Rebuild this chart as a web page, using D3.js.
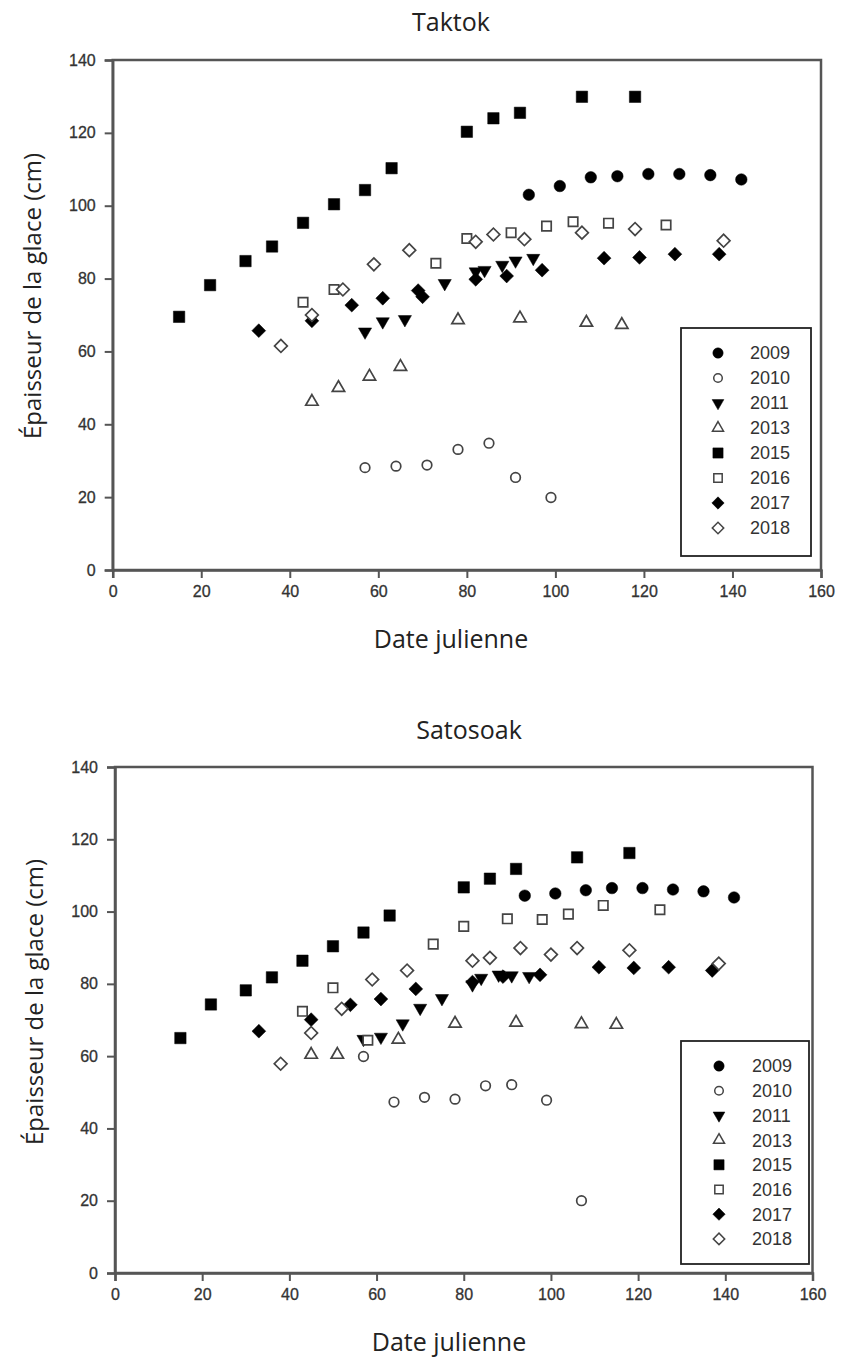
<!DOCTYPE html>
<html>
<head>
<meta charset="utf-8">
<script src="https://cdn.jsdelivr.net/npm/d3@7"></script>
<style>
  body { margin: 0; background: #fff; }
  svg { display: block; }
</style>
</head>
<body>
<div id="chart"></div>
<script>
// Ice thickness per julian day, two sites

const years = ["2009", "2010", "2011", "2013", "2015", "2016", "2017", "2018"];
const xTicks = [0, 20, 40, 60, 80, 100, 120, 140, 160];
const yTicks = [0, 20, 40, 60, 80, 100, 120, 140];

// Taktok  [julian day, thickness cm]
const tk2009 = [[94,103],[101,105.4],[108,107.8],[114,108.1],[121,108.7],[128,108.7],[135,108.4],[142,107.2]];
const tk2010 = [[57,28.1],[64,28.5],[71,28.8],[78,33.1],[85,34.8],[91,25.4],[99,19.9]];
const tk2011 = [[57,65.4],[61,68.2],[66,68.8],[75,78.7],[82,81.9],[84,82.3],[88,83.7],[91,84.9],[95,85.6]];
const tk2013 = [[45,46.2],[51,50],[58,53.1],[65,55.8],[78,68.6],[92,69.1],[107,67.9],[115,67.3]];
const tk2015 = [[15,69.5],[22,78.2],[30,84.8],[36,88.8],[43,95.3],[50,100.4],[57,104.3],[63,110.3],[80,120.3],[86,124],[92,125.5],[106,129.9],[118,129.9]];
const tk2016 = [[43,73.5],[50,77],[73,84.2],[80,91],[90,92.6],[98,94.4],[104,95.6],[112,95.2],[125,94.7]];
const tk2017 = [[33,65.7],[45,68.4],[54,72.7],[61,74.6],[69,76.7],[70,75],[82,79.8],[89,80.7],[97,82.3],[111,85.6],[119,85.8],[127,86.7],[137,86.7]];
const tk2018 = [[38,61.5],[45,70],[52,77],[59,83.9],[67,87.8],[82,90.1],[86,92.1],[93,90.8],[106,92.6],[118,93.6],[138,90.4]];

// Satosoak
const st2009 = [[94,104.4],[101,105],[108,105.9],[114,106.5],[121,106.5],[128,106.1],[135,105.6],[142,103.9]];
const st2010 = [[57,59.9],[64,47.3],[71,48.6],[78,48.1],[85,51.8],[91,52.1],[99,47.8],[107,20]];
const st2011 = [[57,64.7],[61,65.3],[66,69],[70,73.3],[75,76],[82,79.8],[84,81.6],[88,82.5],[91,82.3],[95,82.1]];
const st2013 = [[45,60.4],[51,60.4],[65,64.6],[78,69],[92,69.3],[107,68.9],[115,68.7]];
const st2015 = [[15,65],[22,74.3],[30,78.2],[36,81.8],[43,86.4],[50,90.4],[57,94.2],[63,98.9],[80,106.7],[86,109.1],[92,111.8],[106,115],[118,116.2]];
const st2016 = [[43,72.4],[50,78.9],[58,64.4],[73,91],[80,95.9],[90,98],[98,97.8],[104,99.3],[112,101.7],[125,100.5]];
const st2017 = [[33,66.9],[45,70.1],[54,74.2],[61,75.8],[69,78.6],[82,80.5],[89,82],[97.5,82.5],[111,84.6],[119,84.4],[127,84.6],[137,83.7]];
const st2018 = [[38,57.9],[45,66.4],[52,73.1],[59,81.2],[67,83.7],[82,86.4],[86,87.2],[93,89.9],[100,88.1],[106,89.9],[118,89.3],[138.5,85.6]];

// marker style per year
const markers = {
  "2009": {type: d3.symbolCircle, size: 105, filled: true, rot: 0},
  "2010": {type: d3.symbolCircle, size: 72, filled: false, rot: 0},
  "2011": {type: d3.symbolTriangle, size: 75, filled: true, rot: 180},
  "2013": {type: d3.symbolTriangle, size: 66, filled: false, rot: 0},
  "2015": {type: d3.symbolSquare, size: 130, filled: true, rot: 0},
  "2016": {type: d3.symbolSquare, size: 88, filled: false, rot: 0},
  "2017": {type: d3.symbolSquare, size: 95, filled: true, rot: 45},
  "2018": {type: d3.symbolSquare, size: 82, filled: false, rot: 45}
};

const svg = d3.select("#chart").append("svg")
    .attr("width", 841)
    .attr("height", 1360);

function drawPanel(p) {
  const x = d3.scaleLinear().domain([0, 160]).range([p.x0, p.x1]);
  const y = d3.scaleLinear().domain([0, 140]).range([p.y1, p.y0]);
  const g = svg.append("g");

  // frame
  g.append("rect")
    .attr("x", p.x0).attr("y", p.y0)
    .attr("width", p.x1 - p.x0).attr("height", p.y1 - p.y0)
    .attr("fill", "none").attr("stroke", "#555").attr("stroke-width", 2.5);

  const xAxis = g.append("g")
    .attr("transform", `translate(0,${p.y1})`)
    .call(d3.axisBottom(x).tickValues(xTicks).tickSize(8).tickPadding(8).tickFormat(d3.format("d")));
  const yAxis = g.append("g")
    .attr("transform", `translate(${p.x0},0)`)
    .call(d3.axisLeft(y).tickValues(yTicks).tickSize(8).tickPadding(9).tickFormat(d3.format("d")));

  [xAxis, yAxis].forEach(a => {
    a.select(".domain").attr("stroke", "#555").attr("stroke-width", 2.5);
    a.selectAll(".tick line").attr("stroke", "#555").attr("stroke-width", 2);
    a.selectAll(".tick text")
      .attr("fill", "#333")
      .attr("stroke", "#333").attr("stroke-width", 0.3)
      .style("font-family", "Liberation Sans, Arial, sans-serif")
      .style("font-size", "16px");
  });

  // title
  svg.append("text")
    .attr("x", p.titleX).attr("y", p.titleY)
    .attr("text-anchor", "middle")
    .style("font-family", "Open Sans, sans-serif")
    .style("font-size", "25px")
    .attr("fill", "#222")
    .text(p.title);

  svg.append("text")
    .attr("x", p.xLabelX).attr("y", p.xLabelY)
    .attr("text-anchor", "middle")
    .style("font-family", "Open Sans, sans-serif")
    .style("font-size", "25px")
    .attr("fill", "#222")
    .text("Date julienne");

  svg.append("text")
    .attr("transform", `translate(${p.yLabelX},${p.yLabelY}) rotate(-90)`)
    .attr("text-anchor", "middle")
    .style("font-family", "Open Sans, sans-serif")
    .style("font-size", "24px")
    .attr("fill", "#222")
    .text("Épaisseur de la glace (cm)");

  // points
  years.forEach((yr, i) => {
    const m = markers[yr];
    const sym = d3.symbol().type(m.type).size(m.size);
    g.append("g").selectAll("path")
      .data(p.series[i])
      .enter().append("path")
      .attr("d", sym)
      .attr("transform", d => `translate(${x(d[0])},${y(d[1])}) rotate(${m.rot})`)
      .attr("fill", m.filled ? "#000" : "#fff")
      .attr("stroke", m.filled ? "#000" : "#444")
      .attr("stroke-width", m.filled ? 0.5 : 1.7);
  });

  // legend
  const lg = svg.append("g");
  lg.append("rect")
    .attr("x", p.legX0).attr("y", p.legY0)
    .attr("width", p.legX1 - p.legX0).attr("height", p.legY1 - p.legY0)
    .attr("fill", "#fff").attr("stroke", "#222").attr("stroke-width", 1.8);

  const rows = lg.selectAll("g.row")
    .data(years)
    .enter().append("g")
    .attr("transform", (d, i) => `translate(0,${p.legRow0 + i * p.legStep})`);

  rows.append("path")
    .attr("d", d => d3.symbol().type(markers[d].type).size(markers[d].size * 0.8)())
    .attr("transform", d => `translate(${p.legSymX},0) rotate(${markers[d].rot})`)
    .attr("fill", d => markers[d].filled ? "#000" : "#fff")
    .attr("stroke", d => markers[d].filled ? "#000" : "#444")
    .attr("stroke-width", d => markers[d].filled ? 0.5 : 1.5);

  rows.append("text")
    .attr("x", p.legTextX)
    .attr("dy", "0.36em")
    .style("font-family", "Liberation Sans, Arial, sans-serif")
    .style("font-size", "18px")
    .attr("fill", "#333")
    .text(d => d);
}

drawPanel({
  title: "Taktok", titleX: 451, titleY: 31,
  x0: 112.7, x1: 821, y0: 60, y1: 570,
  xLabelX: 451, xLabelY: 648,
  yLabelX: 41, yLabelY: 296,
  legX0: 681, legX1: 811, legY0: 328, legY1: 556,
  legRow0: 353, legStep: 25, legSymX: 718, legTextX: 750,
  series: [tk2009, tk2010, tk2011, tk2013, tk2015, tk2016, tk2017, tk2018]
});

drawPanel({
  title: "Satosoak", titleX: 469, titleY: 739,
  x0: 115, x1: 812.5, y0: 767, y1: 1273,
  xLabelX: 449, xLabelY: 1351,
  yLabelX: 43, yLabelY: 1002,
  legX0: 681, legX1: 809, legY0: 1041, legY1: 1264,
  legRow0: 1066, legStep: 24.7, legSymX: 719, legTextX: 752,
  series: [st2009, st2010, st2011, st2013, st2015, st2016, st2017, st2018]
});
</script>
</body>
</html>
